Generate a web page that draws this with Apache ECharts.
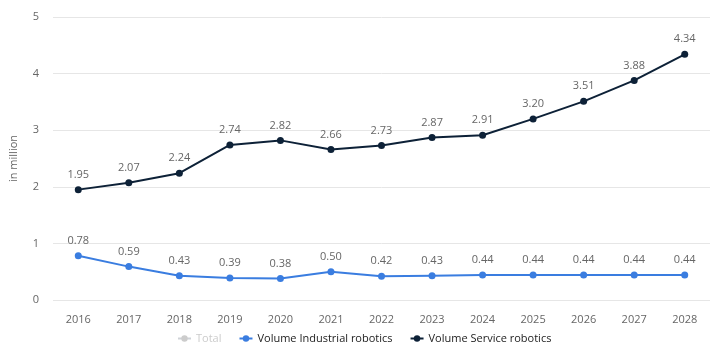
<!DOCTYPE html>
<html><head><meta charset="utf-8">
<script src="https://cdn.jsdelivr.net/npm/echarts@6/dist/echarts.min.js"></script>
<style>html,body{margin:0;padding:0;background:#fff}#c{width:710px;height:350px}</style>
</head><body><div id="c"></div>
<script>
const years = ['2016','2017','2018','2019','2020','2021','2022','2023','2024','2025','2026','2027','2028'];
const industrial = [0.78,0.59,0.43,0.39,0.38,0.50,0.42,0.43,0.44,0.44,0.44,0.44,0.44];
const service = [1.95,2.07,2.24,2.74,2.82,2.66,2.73,2.87,2.91,3.20,3.51,3.88,4.34];
const total = [2.73,2.66,2.67,3.13,3.20,3.16,3.15,3.30,3.35,3.64,3.95,4.32,4.78];
const yTicks = [0,1,2,3,4,5];

const chart = echarts.init(document.getElementById('c'));
const font = 'Open Sans, Noto Sans, sans-serif';
function ser(name, data, color, z){
  return {name, type:'line', data, color, z, symbol:'circle', symbolSize:7,
    lineStyle:{width:2, color}, itemStyle:{color},
    label:{show:true, position:'top', distance:6, color:'#666', fontSize:11, fontFamily:font,
      formatter:p=>p.value.toFixed(2)}};
}
chart.setOption({
  animation:false,
  grid:{left:47, right:-2, top:17, bottom:50},
  legend:{bottom:1, left:172, itemWidth:13, itemHeight:8, itemGap:17,
    textStyle:{color:'#222', fontSize:11, fontFamily:font}, inactiveColor:'#ccc',
    data:['Total','Volume Industrial robotics','Volume Service robotics'],
    selected:{'Total':false}},
  xAxis:{type:'category', data:years, boundaryGap:true,
    axisLine:{show:false}, axisTick:{show:false},
    axisLabel:{color:'#666', fontSize:11, fontFamily:font, margin:14}},
  yAxis:{type:'value', min:yTicks[0], max:yTicks[yTicks.length-1], interval:1,
    name:'in million', nameLocation:'middle', nameGap:34, nameRotate:90,
    nameTextStyle:{color:'#666', fontSize:11, fontFamily:font},
    axisLabel:{color:'#666', fontSize:11, fontFamily:font, margin:14},
    splitLine:{lineStyle:{color:'#e6e6e6'}}},
  series:[
    ser('Total', total, '#cccccc', 1),
    ser('Volume Industrial robotics', industrial, '#3a7de0', 2),
    ser('Volume Service robotics', service, '#0d2137', 3)
  ]
});
</script></body></html>
